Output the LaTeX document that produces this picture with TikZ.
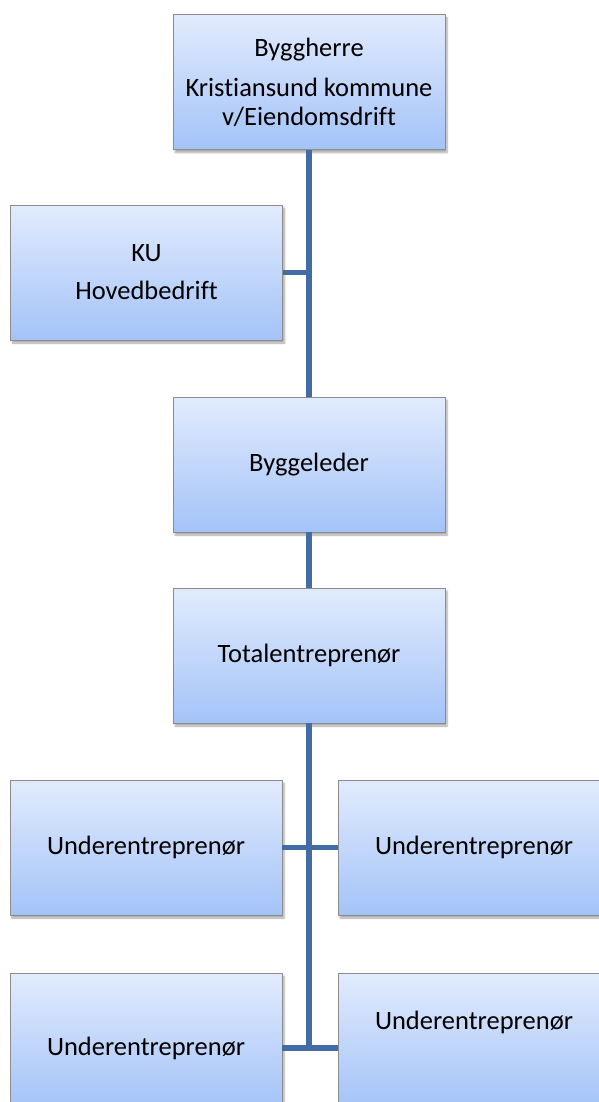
\documentclass[tikz,border=0pt]{standalone}
\usepackage{fontspec}
\setmainfont{Carlito}[Ligatures=NoCommon]
\usepackage{tikz}
\usetikzlibrary{shadows.blur}
\definecolor{boxtop}{RGB}{226,235,253}
\definecolor{boxbottom}{RGB}{163,195,248}
\definecolor{boxedge}{RGB}{140,140,140}
\definecolor{linkblue}{RGB}{68,108,164}
\tikzset{
    every node/.style={align=center,},
    orgbox/.style={draw=boxedge,line width=0.8pt,rectangle,
        top color=boxtop,bottom color=boxbottom,
        minimum width=272pt,minimum height=135pt,inner sep=0pt,
        font=\fontsize{26.5}{29}\selectfont,
        blur shadow={shadow xshift=2pt,shadow yshift=-3pt,shadow blur steps=6,shadow opacity=35},},
    link/.style={draw=linkblue,line width=5.5pt,},
}

\begin{document}
\begin{tikzpicture}[x=1pt,y=-1pt]
                \useasboundingbox (0,0) rectangle (598,1102);

                \node[orgbox] (byggherre) at (309, 82) {Byggherre\\[11pt]Kristiansund kommune\\v/Eiendomsdrift};
                \node[orgbox] (ku) at (146.5, 272.5) {KU\\[9pt]Hovedbedrift};

                \node[orgbox] (byggeleder) at (309, 464.5) {Byggeleder};
                \node[orgbox] (total) at (309, 655.5) {Totalentreprenør};

                \node[orgbox] (under1) at (146, 847.5) {Underentreprenør};
                \node[orgbox] (under2) at (474, 847.5) {Underentreprenør};
                \node[orgbox] (under3) at (146, 1040.5) {\raisebox{-8pt}[\height][\depth]{Underentreprenør}};
                \node[orgbox] (under4) at (474, 1040.5) {\raisebox{18pt}[\height][\depth]{Underentreprenør}};

                \coordinate (trunkend) at (309, 1048);

                \draw[link] (byggherre.south) to (byggeleder.north);
                \draw[link] (ku.east) to (ku.east -| byggherre.south);

                \draw[link] (byggeleder.south) to (total.north);

                \draw[link] (total.south) to (trunkend);
                \draw[link] (under1.east) to (under2.west);
                \draw[link] (under3.east |- trunkend) to (under4.west |- trunkend);
            \end{tikzpicture}
\end{document}
